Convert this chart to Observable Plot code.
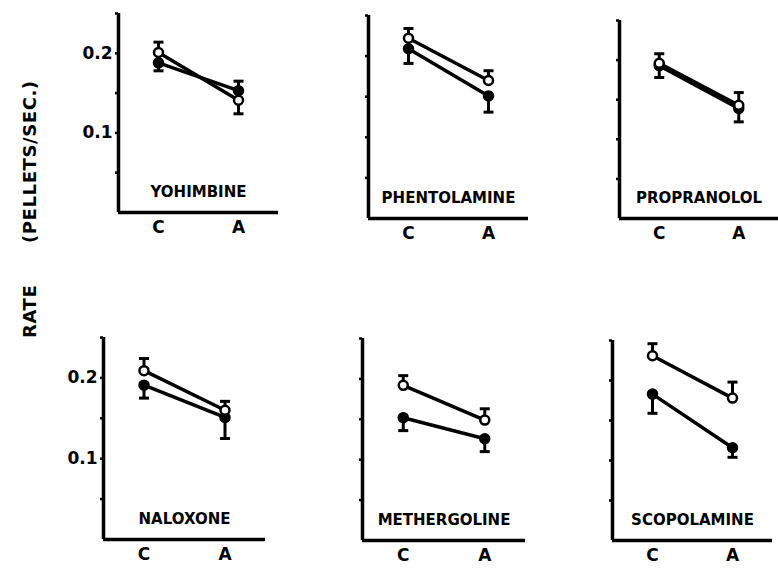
<!DOCTYPE html>
<html><head><meta charset="utf-8">
<script src="https://cdn.jsdelivr.net/npm/d3@7"></script>
<script src="https://cdn.jsdelivr.net/npm/@observablehq/plot@0.6"></script>
<style>
body{margin:0;background:#fff;overflow:hidden;}
#chart{position:relative;width:778px;height:569px;overflow:hidden;font-family:"DejaVu Sans",sans-serif;}
.panel{position:absolute;}
#ylabel{position:absolute;left:19px;top:80px;height:258px;width:22px;writing-mode:vertical-rl;transform:rotate(180deg);display:flex;justify-content:space-between;font-weight:bold;font-size:18px;letter-spacing:0.6px;color:#000;}
</style></head><body><div id="chart"><div id="ylabel"><span>RATE</span><span>(PELLETS/SEC.)</span></div></div>
<script>
const drugs = ["YOHIMBINE","PHENTOLAMINE","PROPRANOLOL","NALOXONE","METHERGOLINE","SCOPOLAMINE"];
const conditions = ["C","A"];
// open circles (upper error bar) and filled circles (lower error bar), per drug: [C, A]
const openMean    = [[0.201,0.141],[0.222,0.170],[0.196,0.143],[0.209,0.160],[0.192,0.149],[0.231,0.178]];
const openUpper   = [[0.214,0.165],[0.234,0.182],[0.208,0.159],[0.224,0.171],[0.204,0.163],[0.246,0.198]];
const filledMean  = [[0.188,0.153],[0.209,0.151],[0.193,0.139],[0.191,0.151],[0.152,0.126],[0.183,0.116]];
const filledLower = [[0.178,0.124],[0.191,0.131],[0.178,0.122],[0.175,0.125],[0.136,0.110],[0.159,0.104]];
const yTicks = [0.05,0.1,0.15,0.2,0.25];
const yTickLabels = ["","0.1","","0.2",""];

const frames = [
  {left:118, top:13, bottom:212, right:278},
  {left:368, top:15, bottom:218, right:528},
  {left:619, top:20, bottom:218, right:778},
  {left:103, top:337, bottom:539, right:265},
  {left:362, top:338, bottom:540, right:525},
  {left:612, top:340, bottom:540, right:772}
];
const ML = 50, MR = 4, MT = 6, MB = 32;
const capSymbol = {draw(ctx, size){ const r = Math.sqrt(size/Math.PI); ctx.moveTo(-r,0); ctx.lineTo(r,0); }};
const chart = document.getElementById("chart");
const font = '"DejaVu Sans", sans-serif';

drugs.forEach((drug, i) => {
  const f = frames[i];
  const rows = conditions.map((c, j) => ({
    x: j, cond: c,
    open: openMean[i][j], up: openUpper[i][j],
    filled: filledMean[i][j], low: filledLower[i][j]
  }));
  const showLabels = i % 3 === 0;
  const p = Plot.plot({
    width: f.right - f.left + ML + MR,
    height: f.bottom - f.top + MT + MB,
    marginLeft: ML, marginRight: MR, marginTop: MT, marginBottom: MB,
    style: {fontFamily: font, fontWeight: "bold", fontSize: "16px", color: "#000", background: "transparent", overflow: "visible"},
    x: {domain: [-0.5, 1.5]},
    y: {domain: [0, 0.25]},
    marks: [
      Plot.axisY({ticks: yTicks, tickSize: 3, tickPadding: 3, strokeWidth: 2.5, fontSize: 17,
        tickFormat: d => showLabels ? yTickLabels[yTicks.indexOf(d)] : "", label: null}),
      Plot.axisX({ticks: [0, 1], tickSize: 0, tickPadding: 8, fontSize: 17,
        tickFormat: d => conditions[d], label: null}),
      Plot.ruleX([-0.5], {stroke: "#000", strokeWidth: 3.5}),
      Plot.ruleY([0], {stroke: "#000", strokeWidth: 3.5}),
      Plot.ruleX(rows, {x: "x", y1: "open", y2: "up", stroke: "#000", strokeWidth: 3}),
      Plot.ruleX(rows, {x: "x", y1: "filled", y2: "low", stroke: "#000", strokeWidth: 3}),
      Plot.dot(rows, {x: "x", y: "up", symbol: capSymbol, r: 5, stroke: "#000", strokeWidth: 3}),
      Plot.dot(rows, {x: "x", y: "low", symbol: capSymbol, r: 5, stroke: "#000", strokeWidth: 3}),
      Plot.line(rows, {x: "x", y: "filled", stroke: "#000", strokeWidth: 3.5}),
      Plot.line(rows, {x: "x", y: "open", stroke: "#000", strokeWidth: 3.5}),
      Plot.dot(rows, {x: "x", y: "filled", r: 5, fill: "#000", stroke: "#000"}),
      Plot.dot(rows, {x: "x", y: "open", r: 4.5, fill: "#fff", stroke: "#000", strokeWidth: 2.5}),
      Plot.text([drug], {frameAnchor: "bottom", dy: -16, fontSize: 15, fontWeight: "bold", fill: "#000"})
    ]
  });
  p.classList.add("panel");
  p.style.left = (f.left - ML) + "px";
  p.style.top = (f.top - MT) + "px";
  chart.appendChild(p);
});
</script></body></html>
